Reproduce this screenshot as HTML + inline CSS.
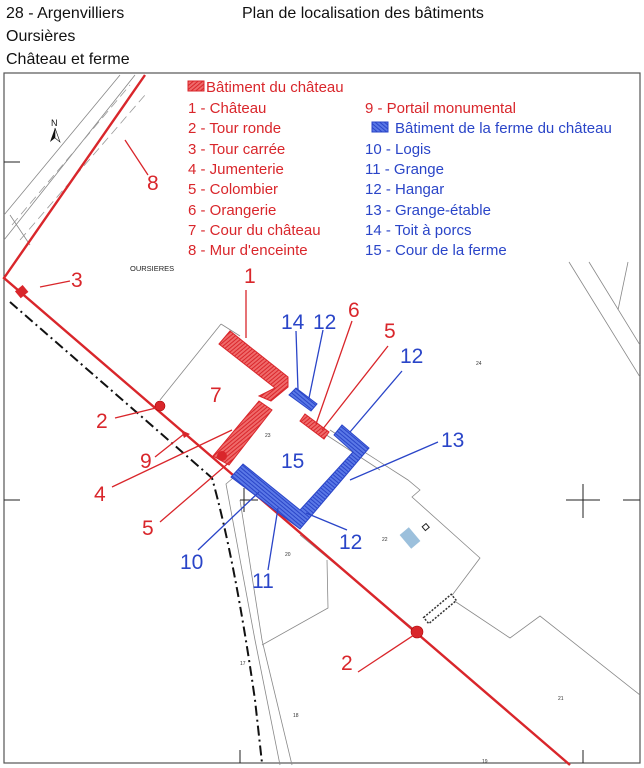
<!DOCTYPE html>
<html><head><meta charset="utf-8"><style>
body{margin:0;background:#fff;}
svg{display:block;font-family:"Liberation Sans",sans-serif;}
.r{fill:#d9262b}.b{fill:#2a45c8}
</style></head><body>
<svg width="644" height="768" viewBox="0 0 644 768" xmlns="http://www.w3.org/2000/svg">
<defs>
<pattern id="hr" width="3" height="3" patternUnits="userSpaceOnUse" patternTransform="rotate(50)"><rect width="3" height="3" fill="#ef6a6a"/><rect width="1" height="3" fill="#d9262b"/></pattern>
<pattern id="hb" width="3" height="3" patternUnits="userSpaceOnUse" patternTransform="rotate(-50)"><rect width="3" height="3" fill="#5a78e6"/><rect width="1" height="3" fill="#2a45c8"/></pattern>
</defs>
<g font-size="16" fill="#111">
<text x="6" y="18">28 - Argenvilliers</text>
<text x="6" y="41">Oursières</text>
<text x="6" y="64">Château et ferme</text>
<text x="242" y="18">Plan de localisation des bâtiments</text>
</g>
<rect x="4" y="73" width="636" height="690" fill="none" stroke="#555" stroke-width="1.2"/>
<g stroke="#888" fill="none" stroke-width="0.8">
<path d="M4,215 L120,75 M4,240 L135,75" />
<path d="M10,215 L30,245" />
<path d="M221,324 L160,400"/>
<path d="M221,324 L240,336"/>
<path d="M330,430 L408,480 L420,490 L412,497 L480,558 L450,598 L510,638 L540,616 L640,695"/>
<path d="M305,421 L380,470"/>
<path d="M327,560 L328,608 L262,645"/>
<path d="M233,478 L226,484 L255,640 L280,765"/>
<path d="M240,500 L262,640 L292,765"/>
<path d="M300,535 L415,630"/>
<path d="M569,262 L640,377 M589,262 L640,345 M628,262 L618,310"/>
</g>
<g stroke="#999" fill="none" stroke-width="0.8" stroke-dasharray="9,5"><path d="M12,225 L130,85 M20,240 L145,95"/></g>
<g stroke="#222" stroke-width="1">
<path d="M566,500 L600,500 M583,484 L583,518 M623,500 L640,500 M4,500 L20,500 M4,162 L20,162 M240,500 L258,500 M244,488 L244,512 M240,750 L240,763 M583,750 L583,763"/>
</g>
<path d="M10,302 L212,478 Q235,560 255,700 L262,763" fill="none" stroke="#111" stroke-width="2" stroke-dasharray="10,4,2,4"/>
<path d="M145,75 L4,278 L570,765" fill="none" stroke="#d9262b" stroke-width="2.4"/>
<g transform="translate(440,609) rotate(-40)"><rect x="-18" y="-4" width="36" height="8" fill="#fff" stroke="#333" stroke-width="1.5" stroke-dasharray="2,1.5"/></g>
<g transform="translate(410,538) rotate(-40)"><rect x="-6" y="-9" width="12" height="18" fill="#9cc0dc"/></g>
<rect x="423" y="525" width="5" height="5" fill="none" stroke="#222" transform="rotate(-40 425 527)"/>
<polygon points="219,344 230,331 288,377 288,387 271,401 259,396 275,388" fill="url(#hr)" stroke="#d9262b" stroke-width="1"/>
<polygon points="259,401 272,410 229,465 213,456" fill="url(#hr)" stroke="#d9262b" stroke-width="1"/>
<polygon points="305,414 329,432 324,439 300,421" fill="url(#hr)" stroke="#d9262b" stroke-width="1"/>
<circle cx="160" cy="406" r="5" class="r" stroke="#a00" stroke-width="0.6"/>
<circle cx="417" cy="632" r="6" class="r" stroke="#a00" stroke-width="0.6"/>
<circle cx="222" cy="456" r="5" class="r"/>
<rect x="17" y="287" width="10" height="9" class="r" transform="rotate(-40 22 292)"/>
<polygon points="181,430 190,434 184,438" class="r"/>
<polygon points="296,388 317,404 311,411 289,395" fill="url(#hb)" stroke="#2a45c8" stroke-width="1"/>
<polygon points="243,464 300,510 353,452 334,435 342,425 369,448 300,529 231,477" fill="url(#hb)" stroke="#2a45c8" stroke-width="1"/>
<text x="51" y="126" font-size="9" fill="#111">N</text>
<polygon points="55,128 50,142 55,138" fill="#111"/><polygon points="55,128 60,142 55,138" fill="none" stroke="#111" stroke-width="0.6"/>
<text x="130" y="271" font-size="7.5" fill="#222">OURSIERES</text>
<g font-size="5" fill="#333"><text x="265" y="437">23</text><text x="476" y="365">24</text><text x="382" y="541">22</text><text x="285" y="556">20</text><text x="558" y="700">21</text><text x="482" y="763">19</text><text x="240" y="665">17</text><text x="293" y="717">18</text></g>
<g stroke="#d9262b" stroke-width="1.3" fill="none">
<path d="M246,290 L246,338 M40,287 L70,281 M125,140 L148,175 M115,418 L160,407 M155,457 L184,434 M112,487 L232,430 M160,522 L232,460 M316,424 L352,321 M322,430 L388,346 M358,672 L417,633"/>
</g>
<g stroke="#2a45c8" stroke-width="1.3" fill="none">
<path d="M296,331 L298,390 M323,330 L309,398 M350,432 L402,371 M350,480 L438,442 M198,550 L259,492 M268,570 L278,508 M347,530 L306,513"/>
</g>
<g font-size="21" class="r">
<text x="244" y="283">1</text><text x="71" y="287">3</text><text x="147" y="190">8</text>
<text x="348" y="317">6</text><text x="384" y="338">5</text><text x="210" y="402">7</text>
<text x="96" y="428">2</text><text x="140" y="468">9</text><text x="94" y="501">4</text>
<text x="142" y="535">5</text><text x="341" y="670">2</text>
</g>
<g font-size="21" class="b">
<text x="281" y="329">14</text><text x="313" y="329">12</text><text x="400" y="363">12</text>
<text x="281" y="468">15</text><text x="441" y="447">13</text><text x="180" y="569">10</text>
<text x="252" y="588">11</text><text x="339" y="549">12</text>
</g>
<rect x="188" y="81" width="16" height="10" fill="url(#hr)" stroke="#d9262b"/>
<rect x="372" y="122" width="16" height="10" fill="url(#hb)" stroke="#2a45c8"/>
<g font-size="15" class="r">
<text x="206" y="92">Bâtiment du château</text>
<text x="188" y="113">1 - Château</text><text x="188" y="133">2 - Tour ronde</text>
<text x="188" y="154">3 - Tour carrée</text><text x="188" y="174">4 - Jumenterie</text>
<text x="188" y="194">5 - Colombier</text><text x="188" y="215">6 - Orangerie</text>
<text x="188" y="235">7 - Cour du château</text><text x="188" y="255">8 - Mur d'enceinte</text>
<text x="365" y="113">9 - Portail monumental</text>
</g>
<g font-size="15" class="b">
<text x="395" y="133">Bâtiment de la ferme du château</text>
<text x="365" y="154">10 - Logis</text><text x="365" y="174">11 - Grange</text>
<text x="365" y="194">12 - Hangar</text><text x="365" y="215">13 - Grange-étable</text>
<text x="365" y="235">14 - Toit à porcs</text><text x="365" y="255">15 - Cour de la ferme</text>
</g>
</svg>
</body></html>
